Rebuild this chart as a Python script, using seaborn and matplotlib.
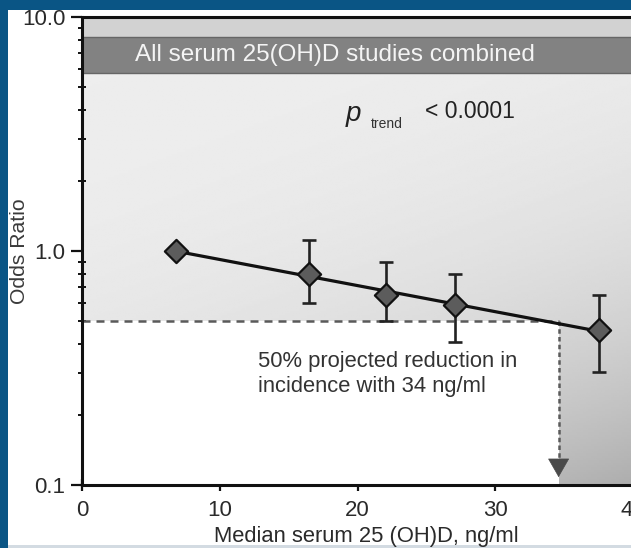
import numpy as np
import pandas as pd
import matplotlib
matplotlib.use("Agg")
import matplotlib.pyplot as plt
from matplotlib.patches import Rectangle
from matplotlib.ticker import NullFormatter
import seaborn as sns

# values
serum_levels = [6.8, 16.5, 22.1, 27.1, 37.5]
odds_ratios = [1.0, 0.80, 0.65, 0.59, 0.46]
ci_lower = [np.nan, 0.60, 0.50, 0.41, 0.305]
ci_upper = [np.nan, 1.11, 0.90, 0.80, 0.65]
x_ticks = [0, 10, 20, 30, 40]
y_ticks = [0.1, 1.0, 10.0]
y_tick_labels = ["0.1", "1.0", "10.0"]
target_level = 34.6   # ng/ml for 50% reduction
target_or = 0.5

sns.set_theme(style="ticks")
plt.rcParams["font.family"] = ["Liberation Sans", "DejaVu Sans"]

df = pd.DataFrame({"serum": serum_levels, "odds": odds_ratios,
                   "lo": ci_lower, "hi": ci_upper})

W, H = 631, 548
fig = plt.figure(figsize=(W / 100, H / 100), dpi=100, facecolor="#0a5585")
# white slide panel + thin strip at the bottom
fig.patches.append(Rectangle((8 / W, 3 / H), 623 / W, 535 / H, transform=fig.transFigure,
                             facecolor="white", edgecolor="none", zorder=-2))
fig.patches.append(Rectangle((8 / W, 0), 623 / W, 3 / H, transform=fig.transFigure,
                             facecolor="#d3dbe2", edgecolor="none", zorder=-2))

ax = fig.add_axes([82 / W, 63 / H, 551 / W, 468 / H])
ax.set_zorder(1)
ax.set_yscale("log")

# grey gradient backdrop
u, v = np.meshgrid(np.linspace(0, 1, 200), np.linspace(1, 0, 200))
t = 0.3 * u + 0.7 * (1 - v)
shade = 0.93 - 0.25 * t ** 3
ax.imshow(shade, cmap="gray", vmin=0, vmax=1, extent=(0, 1, 0, 1), transform=ax.transAxes,
          aspect="auto", interpolation="bilinear", zorder=0)
ax.set_xlim(0, 40)
ax.set_ylim(0.1, 10)

# white box below the 50% line
ax.add_patch(Rectangle((0, 0.1), target_level, target_or - 0.1, facecolor="white",
                       edgecolor="none", zorder=1))

# banner
ax.add_patch(Rectangle((0, 0.957), 1, 0.043, transform=ax.transAxes, facecolor="#d2d2d2",
                       edgecolor="none", zorder=1))
ax.add_patch(Rectangle((0, 0.880), 1, 0.077, transform=ax.transAxes, facecolor="#828282",
                       edgecolor="#666666", lw=1, zorder=1))
ax.text(0.459, 0.919, "All serum 25(OH)D studies combined", transform=ax.transAxes,
        ha="center", va="center", fontsize=17.5, color="#f4f4f4", zorder=2)

# dashed reference lines + arrow
ax.plot([0, target_level], [target_or, target_or], color="#5a5a5a", lw=1.8,
        ls=(0, (3.2, 2.4)), zorder=2)
ax.plot([target_level, target_level], [target_or, 0.125], color="#5a5a5a", lw=1.8,
        ls=(0, (1.8, 1.3)), zorder=2)
ax.annotate("", xy=(target_level, 0.108), xytext=(target_level, 0.127),
            arrowprops=dict(arrowstyle="-|>,head_length=0.7,head_width=0.4", color="#4a4a4a",
                            lw=0.5, shrinkA=0, shrinkB=0, mutation_scale=18), zorder=3)

# trend line fitted on log odds
coef = np.polyfit(df["serum"], np.log10(df["odds"]), 1)
fit_x = np.array([serum_levels[0], serum_levels[-1]])
fit_y = 10 ** np.polyval(coef, fit_x)
sns.lineplot(x=fit_x, y=fit_y, ax=ax, color="#111111", lw=2.3, zorder=3)

ax.errorbar(df["serum"], df["odds"],
            yerr=[df["odds"] - df["lo"], df["hi"] - df["odds"]],
            fmt="none", ecolor="#222222", elinewidth=1.9, capsize=5, capthick=1.9, zorder=4)
sns.scatterplot(data=df, x="serum", y="odds", marker="D", s=140, color="#5c5c5c",
                edgecolor="#111111", linewidth=1.6, zorder=5, ax=ax)

# annotations
ax.text(19.7, 3.85, "p", fontsize=20, style="italic", color="#222222", ha="center", va="center")
ax.text(22.1, 3.5, "trend", fontsize=10, color="#333333", ha="center", va="center")
ax.text(24.9, 3.95, "< 0.0001", fontsize=16.5, color="#222222", ha="left", va="center")
ax.text(12.8, 0.298, "50% projected reduction in\nincidence with 34 ng/ml", fontsize=15.8,
        color="#333333", ha="left", va="center", linespacing=1.2)

# axes styling
for side in ["left", "bottom", "top", "right"]:
    ax.spines[side].set_linewidth(2.2)
    ax.spines[side].set_color("#111111")
ax.set_xticks(x_ticks)
ax.set_yticks(y_ticks, y_tick_labels)
ax.yaxis.set_minor_formatter(NullFormatter())
ax.tick_params(axis="x", direction="inout", length=8, width=1.6, labelsize=16, pad=7,
               labelcolor="#2a2a2a", color="#111111")
ax.tick_params(axis="y", which="major", direction="out", length=8, width=1.6, labelsize=16,
               pad=4, labelcolor="#2a2a2a", color="#111111")
ax.tick_params(axis="y", which="minor", direction="inout", length=6, width=1.4, color="#111111")

ax.set_xlabel("Median serum 25 (OH)D, ng/ml", fontsize=15.8, color="#2a2a2a")
ax.set_ylabel("Odds Ratio", fontsize=15.2, color="#3a3a3a")
ax.xaxis.set_label_coords((366 - 82) / 551, -0.087)
ax.yaxis.set_label_coords((29 - 82) / 551, 0.5)

fig.savefig("out.png", dpi=100, facecolor=fig.get_facecolor())
